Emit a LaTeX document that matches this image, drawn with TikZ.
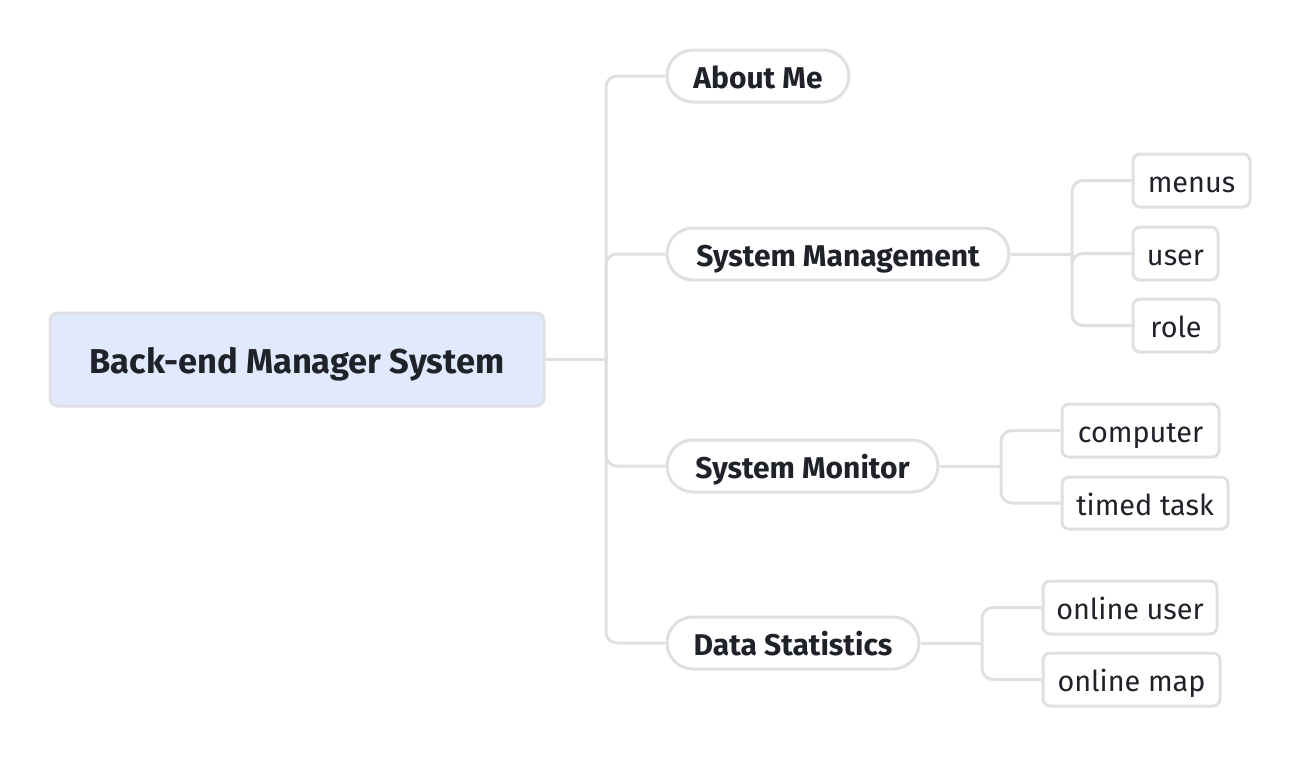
\documentclass[tikz,border=0pt]{standalone}
\usepackage{fontspec}
\setmainfont{Fira Sans}
\definecolor{txt}{HTML}{1F2329}
\definecolor{edge}{HTML}{DEE0E3}
\definecolor{rootfill}{HTML}{E1E9FD}
\tikzset{
  base/.style={draw=edge, line width=3pt, text=txt, inner sep=0pt, align=center, text depth=0pt},
  rootbox/.style={base, fill=rootfill, rounded corners=8pt, font=\fontsize{34.5}{40}\selectfont\bfseries, text height=28.8pt},
  childbox/.style={base, fill=white, rounded corners=26pt, font=\fontsize{30}{36}\selectfont\bfseries, text height=25.2pt},
  leafbox/.style={base, fill=white, rounded corners=7pt, font=\fontsize{28.8}{34}\selectfont, text height=24.8pt},
  conn/.style={draw=edge, line width=3pt, rounded corners=11pt},
}
\begin{document}
\begin{tikzpicture}[x=1pt,y=-1pt]
\useasboundingbox (0,0) rectangle (1302,758);
% root
\node[rootbox, minimum width=494pt, minimum height=93pt] (root) at (297,359.5) {Back-end Manager System};
% children
\node[childbox, minimum width=182pt, minimum height=52pt] (am) at (758,76) {About Me};
\node[childbox, minimum width=342pt, minimum height=52pt] (sm) at (838,254) {System Management};
\node[childbox, minimum width=271pt, minimum height=52pt] (mon) at (802.5,466) {System Monitor};
\node[childbox, minimum width=252pt, minimum height=52pt] (ds) at (793,643) {Data Statistics};
% leaves
\node[leafbox, minimum width=117pt, minimum height=53pt] (menus) at (1191.5,180.5) {menus};
\node[leafbox, minimum width=85pt, minimum height=53pt] (user) at (1175.5,253.5) {user};
\node[leafbox, minimum width=86pt, minimum height=53pt] (role) at (1176,325.5) {role};
\node[leafbox, minimum width=157pt, minimum height=53pt] (comp) at (1140.5,430.5) {computer};
\node[leafbox, minimum width=166pt, minimum height=52pt] (timed) at (1145,503) {timed task};
\node[leafbox, minimum width=174pt, minimum height=53pt] (ouser) at (1130,607.5) {online user};
\node[leafbox, minimum width=177pt, minimum height=53pt] (omap) at (1131.5,679.5) {online map};
% junctions
\coordinate (j0) at (606,359.5);
\coordinate (j1) at (1072,254);
\coordinate (j2) at (1001,466);
\coordinate (j3) at (982,643);
% connectors
\draw[conn] (root.east) -- (j0);
\draw[conn] (j0) |- (am.west);
\draw[conn] (j0) |- (sm.west);
\draw[conn] (j0) |- (mon.west);
\draw[conn] (j0) |- (ds.west);
\draw[conn] (sm.east) -- (j1);
\draw[conn] (j1) |- (menus.west);
\draw[conn] (j1) |- (user.west);
\draw[conn] (j1) |- (role.west);
\draw[conn] (mon.east) -- (j2);
\draw[conn] (j2) |- (comp.west);
\draw[conn] (j2) |- (timed.west);
\draw[conn] (ds.east) -- (j3);
\draw[conn] (j3) |- (ouser.west);
\draw[conn] (j3) |- (omap.west);
\end{tikzpicture}
\end{document}
